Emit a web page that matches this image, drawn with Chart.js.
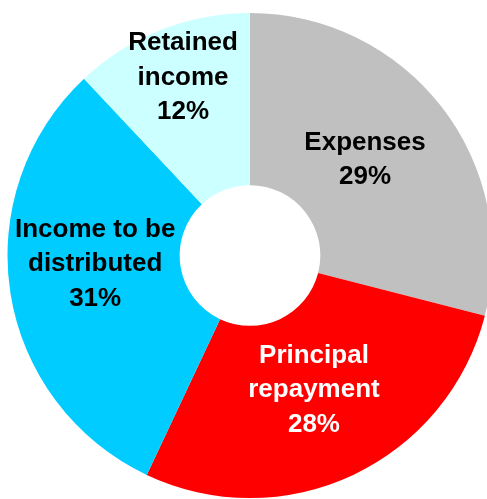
<!DOCTYPE html>
<html>
<head>
<meta charset="utf-8">
<script src="https://cdn.jsdelivr.net/npm/chart.js@4"></script>
<style>
  html, body { margin: 0; padding: 0; background: #fff; overflow: hidden; }
  canvas { display: block; }
</style>
</head>
<body>
<canvas id="myChart" width="500" height="499"></canvas>
<script>
// slices, clockwise from 12 o'clock
const labels = [['Expenses'], ['Principal', 'repayment'], ['Income to be', 'distributed'], ['Retained', 'income']];
const shares = [29, 28, 31, 12];
const colors = ['#C0C0C0', '#FF0000', '#00CCFF', '#CCFFFF'];
const textColors = ['#000000', '#FFFFFF', '#000000', '#000000'];

// where each label sits: fraction of outer radius, small angle nudge (deg)
const labelRadius = [0.623, 0.606, 0.639, 0.792];
const labelNudge = [-2.6, -0.6, 6.6, 1.2];

const sliceLabels = {
    id: 'sliceLabels',
    afterDraw(chart) {
        const ctx = chart.ctx;
        const meta = chart.getDatasetMeta(0);
        const fontSize = 26;
        const lineH = 34.5;
        const cap = fontSize * 0.716;
        ctx.save();
        ctx.font = 'bold ' + fontSize + 'px "Liberation Sans", Arial, sans-serif';
        ctx.textAlign = 'center';
        ctx.textBaseline = 'alphabetic';
        meta.data.forEach((arc, i) => {
            const p = arc.getProps(['x', 'y', 'startAngle', 'endAngle', 'outerRadius'], true);
            const mid = (p.startAngle + p.endAngle) / 2 + labelNudge[i] * Math.PI / 180;
            const r = p.outerRadius * labelRadius[i];
            const cx = p.x + Math.cos(mid) * r;
            const cy = p.y + Math.sin(mid) * r;
            const lines = labels[i].concat([shares[i] + '%']);
            const top = cy - (lines.length - 1) * lineH / 2;
            ctx.fillStyle = textColors[i];
            lines.forEach((t, k) => {
                ctx.fillText(t, cx, top + k * lineH + cap / 2);
            });
        });
        ctx.restore();
    }
};

new Chart(document.getElementById('myChart').getContext('2d'), {
    type: 'doughnut',
    data: {
        labels: labels.map(l => l.join(' ')),
        datasets: [{
            data: shares,
            backgroundColor: colors,
            borderWidth: 0
        }]
    },
    options: {
        responsive: false,
        animation: false,
        cutout: '29%',
        layout: { padding: { top: 13, bottom: 1, left: 0, right: 0 } },
        plugins: {
            legend: { display: false },
            tooltip: { enabled: false }
        }
    },
    plugins: [sliceLabels]
});
</script>
</body>
</html>
